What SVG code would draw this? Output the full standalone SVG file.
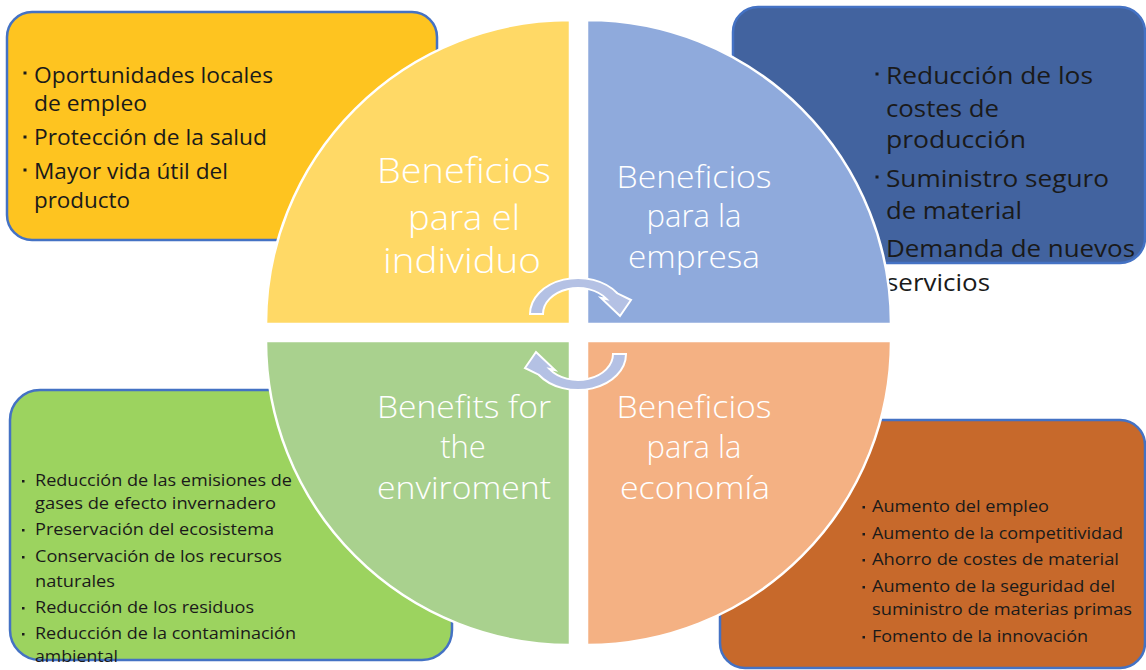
<svg xmlns="http://www.w3.org/2000/svg" width="1146" height="670" viewBox="0 0 1146 670">
  <defs>
    <style>
      .box { stroke: #4472C4; stroke-width: 2.5; }
      .quad { stroke: #FFFFFF; stroke-width: 2.5; }
      .item { font-family: "Open Sans", "Liberation Sans", sans-serif; fill: #1A1A1A; }
      .big { font-size: 21px; }
      .mid { font-size: 24px; }
      .small { font-size: 16px; }
      .title { font-family: "Open Sans", "Liberation Sans", sans-serif; font-weight: 300; fill: #FFFFFF; text-anchor: middle; }
      .bullet { fill: #1A1A1A; }
      .cyc { fill: #B4C1E4; stroke: #FFFFFF; stroke-width: 2; stroke-linejoin: miter; }
    </style>
    <!-- curved arrow, drawn once and reused for both turns of the cycle -->
    <path id="turn" d="M 530 314 A 48 36 0 0 1 617.3 293.3 L 631 300 L 620 316 L 601 298 L 606.7 299.1 A 35 26 0 0 0 543 314 Z"/>
  </defs>

  <!-- outer detail boxes -->
  <g id="box-individuo">
    <rect class="box" x="7" y="12" width="430" height="228" rx="25" fill="#FEC420"/>
    <rect class="bullet" x="23.5" y="71.5" width="3" height="3"/>
    <text class="item big" x="34" y="83" textLength="239" lengthAdjust="spacingAndGlyphs">Oportunidades  locales</text>
    <text class="item big" x="34" y="111" textLength="113" lengthAdjust="spacingAndGlyphs">de empleo</text>
    <rect class="bullet" x="23.5" y="135.5" width="3" height="3"/>
    <text class="item big" x="34" y="145" textLength="233" lengthAdjust="spacingAndGlyphs">Protección  de la salud</text>
    <rect class="bullet" x="23.5" y="168.5" width="3" height="3"/>
    <text class="item big" x="34" y="179" textLength="194" lengthAdjust="spacingAndGlyphs">Mayor vida útil del</text>
    <text class="item big" x="34" y="208" textLength="96" lengthAdjust="spacingAndGlyphs">producto</text>
  </g>

  <g id="box-empresa">
    <rect class="box" x="733" y="7" width="412" height="256" rx="25" fill="#42639F"/>
    <rect class="bullet" x="875.5" y="72.5" width="3" height="3"/>
    <text class="item mid" x="886" y="84" textLength="207" lengthAdjust="spacingAndGlyphs">Reducción de los</text>
    <text class="item mid" x="886" y="117" textLength="113" lengthAdjust="spacingAndGlyphs">costes de</text>
    <text class="item mid" x="886" y="148" textLength="140" lengthAdjust="spacingAndGlyphs">producción</text>
    <rect class="bullet" x="875.5" y="175.5" width="3" height="3"/>
    <text class="item mid" x="886" y="187" textLength="223" lengthAdjust="spacingAndGlyphs">Suministro seguro</text>
    <text class="item mid" x="886" y="219" textLength="136" lengthAdjust="spacingAndGlyphs">de material</text>
    <rect class="bullet" x="875.5" y="245.5" width="3" height="3"/>
    <text class="item mid" x="886" y="257" textLength="249" lengthAdjust="spacingAndGlyphs">Demanda de nuevos</text>
    <text class="item mid" x="886" y="291" textLength="104" lengthAdjust="spacingAndGlyphs">servicios</text>
  </g>

  <g id="box-entorno">
    <rect class="box" x="10" y="390" width="442" height="270" rx="30" fill="#9CD35F"/>
    <rect class="bullet" x="22" y="480" width="2.5" height="2.5"/>
    <text class="item small" x="35" y="486" textLength="257" lengthAdjust="spacingAndGlyphs">Reducción de las emisiones de</text>
    <text class="item small" x="35" y="509" textLength="241" lengthAdjust="spacingAndGlyphs">gases de efecto invernadero</text>
    <rect class="bullet" x="22" y="529" width="2.5" height="2.5"/>
    <text class="item small" x="35" y="535" textLength="239" lengthAdjust="spacingAndGlyphs">Preservación del ecosistema</text>
    <rect class="bullet" x="22" y="556" width="2.5" height="2.5"/>
    <text class="item small" x="35" y="562" textLength="247" lengthAdjust="spacingAndGlyphs">Conservación de los recursos</text>
    <text class="item small" x="35" y="587" textLength="80" lengthAdjust="spacingAndGlyphs">naturales</text>
    <rect class="bullet" x="22" y="607" width="2.5" height="2.5"/>
    <text class="item small" x="35" y="613" textLength="219" lengthAdjust="spacingAndGlyphs">Reducción de los residuos</text>
    <rect class="bullet" x="22" y="633" width="2.5" height="2.5"/>
    <text class="item small" x="35" y="639" textLength="261" lengthAdjust="spacingAndGlyphs">Reducción de la contaminación</text>
    <text class="item small" x="35" y="662" textLength="83" lengthAdjust="spacingAndGlyphs">ambiental</text>
  </g>

  <g id="box-economia">
    <rect class="box" x="720" y="420" width="425" height="248" rx="25" fill="#C7692B"/>
    <rect class="bullet" x="862.5" y="506" width="2.5" height="2.5"/>
    <text class="item small" x="872" y="512" textLength="177" lengthAdjust="spacingAndGlyphs">Aumento del empleo</text>
    <rect class="bullet" x="862.5" y="533" width="2.5" height="2.5"/>
    <text class="item small" x="872" y="539" textLength="251" lengthAdjust="spacingAndGlyphs">Aumento de la competitividad</text>
    <rect class="bullet" x="862.5" y="559" width="2.5" height="2.5"/>
    <text class="item small" x="872" y="565" textLength="247" lengthAdjust="spacingAndGlyphs">Ahorro de costes de material</text>
    <rect class="bullet" x="862.5" y="586" width="2.5" height="2.5"/>
    <text class="item small" x="872" y="592" textLength="243" lengthAdjust="spacingAndGlyphs">Aumento de la seguridad del</text>
    <text class="item small" x="872" y="615" textLength="260" lengthAdjust="spacingAndGlyphs">suministro de materias primas</text>
    <rect class="bullet" x="862.5" y="636" width="2.5" height="2.5"/>
    <text class="item small" x="872" y="642" textLength="216" lengthAdjust="spacingAndGlyphs">Fomento de la innovación</text>
  </g>

  <!-- central circle split into four quarters -->
  <g id="quad-individuo">
    <path class="quad" d="M 570 324 L 266 324 A 304 304 0 0 1 570 20 Z" fill="#FFD966"/>
    <text class="title" x="464" y="183" font-size="34" textLength="174" lengthAdjust="spacingAndGlyphs">Beneficios</text>
    <text class="title" x="464" y="230" font-size="34" textLength="112" lengthAdjust="spacingAndGlyphs">para el</text>
    <text class="title" x="462" y="273" font-size="34" textLength="158" lengthAdjust="spacingAndGlyphs">individuo</text>
  </g>
  <g id="quad-empresa">
    <path class="quad" d="M 587 324 L 587 20 A 304 304 0 0 1 891 324 Z" fill="#8FAADC"/>
    <text class="title" x="694" y="188" font-size="31" textLength="155" lengthAdjust="spacingAndGlyphs">Beneficios</text>
    <text class="title" x="694" y="227" font-size="31">para la</text>
    <text class="title" x="694" y="268" font-size="31" textLength="132" lengthAdjust="spacingAndGlyphs">empresa</text>
  </g>
  <g id="quad-entorno">
    <path class="quad" d="M 570 341 L 570 645 A 304 304 0 0 1 266 341 Z" fill="#A9D18E"/>
    <text class="title" x="464" y="418" font-size="31" textLength="174" lengthAdjust="spacingAndGlyphs">Benefits for</text>
    <text class="title" x="463" y="458" font-size="31">the</text>
    <text class="title" x="464" y="499" font-size="31" textLength="174" lengthAdjust="spacingAndGlyphs">enviroment</text>
  </g>
  <g id="quad-economia">
    <path class="quad" d="M 587 341 L 891 341 A 304 304 0 0 1 587 645 Z" fill="#F4B183"/>
    <text class="title" x="694" y="418" font-size="31" textLength="155" lengthAdjust="spacingAndGlyphs">Beneficios</text>
    <text class="title" x="694" y="458" font-size="31">para la</text>
    <text class="title" x="695" y="499" font-size="31" textLength="150" lengthAdjust="spacingAndGlyphs">economía</text>
  </g>

  <!-- cycle arrows -->
  <g id="connectors">
    <use href="#turn" class="cyc"/>
    <use href="#turn" class="cyc" transform="rotate(180 578 334)"/>
  </g>
</svg>
